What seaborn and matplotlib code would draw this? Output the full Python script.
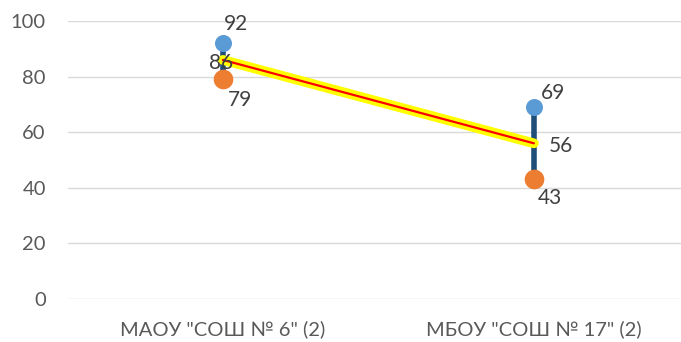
import matplotlib
matplotlib.use("Agg")
import matplotlib.pyplot as plt
import matplotlib.patheffects as pe
import seaborn as sns
import pandas as pd

categories = ['МАОУ "СОШ № 6" (2)', 'МБОУ "СОШ № 17" (2)']
max_vals = [92, 69]
min_vals = [79, 43]
avg_vals = [86, 56]

sns.set_theme(style="white")
plt.rcParams['font.family'] = ['Lato', 'DejaVu Sans']

df = pd.DataFrame({"cat": categories, "max": max_vals, "min": min_vals, "avg": avg_vals})
df["x"] = range(len(categories))

fig = plt.figure(figsize=(6.81, 3.42), dpi=100)
ax = fig.add_axes([68 / 681, 43 / 342, 613 / 681, 278 / 342])

# high-low lines
ax.vlines(df["x"], df["min"], df["max"], color="#1F4E79", lw=4, zorder=2)

# average line with yellow glow
sns.lineplot(data=df, x="x", y="avg", ax=ax, color="#FF0000", lw=1.6, zorder=3,
             path_effects=[pe.Stroke(linewidth=7, foreground="#FFFF00"), pe.Normal()])

sns.scatterplot(data=df, x="x", y="max", ax=ax, color="#5B9BD5", s=150, linewidth=0, zorder=4)
sns.scatterplot(data=df, x="x", y="min", ax=ax, color="#ED7D31", s=200, linewidth=0, zorder=4)

lab_kw = dict(textcoords="offset pixels", ha="center", va="center", fontsize=15, color="#404040", zorder=5)
max_off = [(13, 19), (19, 14)]
min_off = [(17, -21), (16, -19)]
avg_off = [(-2, -3), (27, -3)]
for i in range(len(categories)):
    ax.annotate(str(max_vals[i]), (i, max_vals[i]), xytext=max_off[i], **lab_kw)
    ax.annotate(str(min_vals[i]), (i, min_vals[i]), xytext=min_off[i], **lab_kw)
    ax.annotate(str(avg_vals[i]), (i, avg_vals[i]), xytext=avg_off[i], **lab_kw)

ax.set_ylim(0, 100)
ax.set_xlim(-0.498, 1.473)
ax.set_yticks([0, 20, 40, 60, 80, 100])
ax.set_xticks(range(len(categories)))
ax.set_xticklabels(categories)
ax.grid(axis="y", color="#D9D9D9", lw=1)
ax.set_axisbelow(True)
for s in ax.spines.values():
    s.set_visible(False)
ax.tick_params(axis="y", length=0, pad=16, labelsize=14.5, labelcolor="#595959")
ax.tick_params(axis="x", length=0, pad=15, labelsize=14.5, labelcolor="#595959")
ax.set_xlabel("")
ax.set_ylabel("")

fig.savefig("out.png", dpi=100)
